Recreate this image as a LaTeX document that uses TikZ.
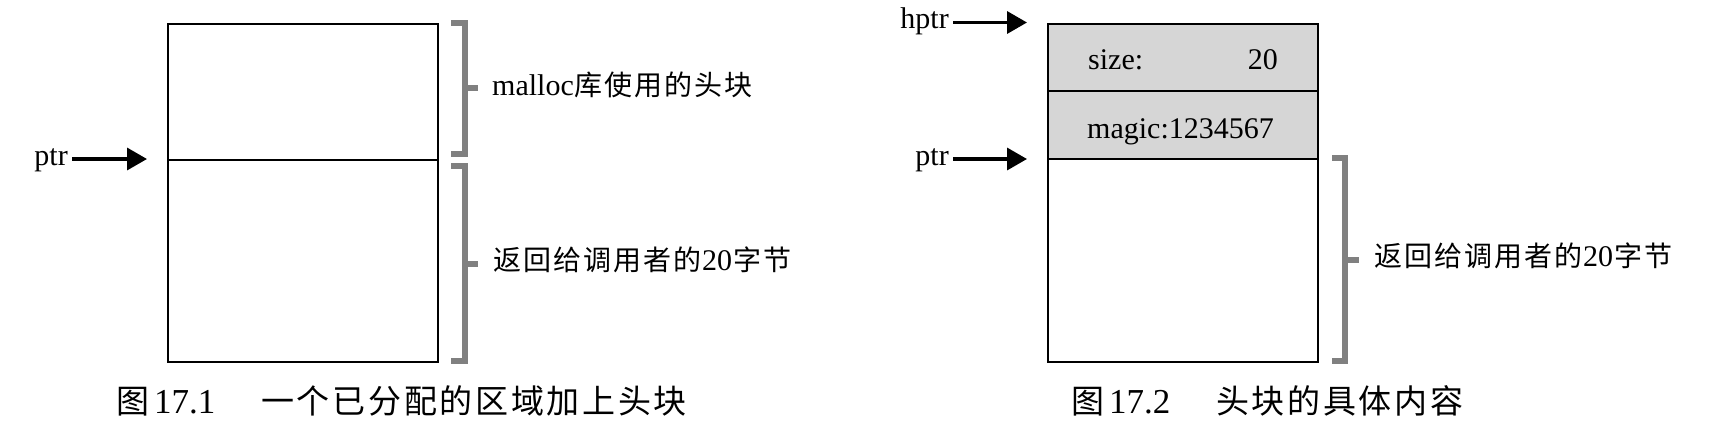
\documentclass[tikz,border=0pt]{standalone}
\usepackage{fontspec}
\setmainfont{Liberation Serif}
\newfontfamily\cjk{Noto Sans CJK SC}
\usetikzlibrary{arrows.meta}
\definecolor{hdrgray}{HTML}{D6D6D6}
\definecolor{brkgray}{HTML}{808080}
\newlength\cpitch
\def\spr#1{\sprA#1\relax}
\def\sprA#1{\ifx\relax#1\else\makebox[\cpitch][c]{#1}\expandafter\sprA\fi}
\newcommand\labcjk[1]{{\cjk\fontsize{28}{30}\selectfont\setlength\cpitch{30pt}\spr{#1}}}
\begin{document}
\begin{tikzpicture}[x=1pt,y=-1pt,
  cell/.style={draw=black, line width=1.6pt, minimum width=270pt, inner sep=0pt, anchor=north west},
  hdr/.style={cell, fill=hdrgray},
  arr/.style={line width=3.5pt, -{Triangle[length=20pt,width=22pt]}},
  brk/.style={draw=brkgray, line width=6pt, miter limit=10},
  lat/.style={font=\fontsize{30}{36}\selectfont, inner sep=0pt},
  ptrlab/.style={lat, inner xsep=4pt, anchor=base east},
  lab/.style={lat, anchor=base west},
  capt/.style={font=\fontsize{35}{40}\selectfont, inner sep=0pt, anchor=base west}
]
\useasboundingbox (0,0) rectangle (1729,445);

% ---------- Figure 17.1 ----------
\node[cell, minimum height=136pt] (hdrL) at (167,23) {};
\node[cell, minimum height=202pt] (bodyL) at (167,159) {};

\coordinate (t1) at (147,159);
\node[ptrlab] (ptr1) at (72,165) {ptr};
\draw[arr] (ptr1.east |- t1) -- (t1);

\draw[brk] (451,23) -- (465,23) -- (465,154) -- (451,154);
\draw[brk] (465,88) -- (478,88);
\draw[brk] (451,166) -- (465,166) -- (465,361) -- (451,361);
\draw[brk] (465,263.5) -- (478,263.5);

\node[lab] (lab1) at (492,95) {malloc\labcjk{库使用的头块}};
\node[lab] (lab2) at (492,270) {\labcjk{返回给调用者的}20\labcjk{字节}};

\node[capt] (cap1a) at (116,413) {\makebox[38pt][l]{\cjk\fontsize{33}{40}\selectfont 图}17.1};
\node[capt] (cap1b) at (259.7,413) {\cjk\fontsize{33}{40}\selectfont\setlength\cpitch{35.7pt}\spr{一个已分配的区域加上头块}};

% ---------- Figure 17.2 ----------
\node[hdr, minimum height=67pt] (sizeC) at (1047,23) {};
\node[hdr, minimum height=68pt] (magicC) at (1047,90) {};
\node[cell, minimum height=203pt] (bodyR) at (1047,158) {};

\node[lab] (szl) at (1088,69) {size:};
\node[lat, anchor=base east] (szv) at (1278,69) {20};
\node[lab] (mg) at (1087,138) {magic:1234567};

\coordinate (t2) at (1027,22.5);
\node[ptrlab] (hptr) at (953,28.5) {hptr};
\draw[arr] (hptr.east |- t2) -- (t2);

\coordinate (t3) at (1027,159);
\node[ptrlab] (ptr2) at (953,165) {ptr};
\draw[arr] (ptr2.east |- t3) -- (t3);

\draw[brk] (1332,158) -- (1345,158) -- (1345,361) -- (1332,361);
\draw[brk] (1345,260) -- (1359,260);

\node[lab] (lab3) at (1373,266) {\labcjk{返回给调用者的}20\labcjk{字节}};

\node[capt] (cap2a) at (1071,413) {\makebox[38pt][l]{\cjk\fontsize{33}{40}\selectfont 图}17.2};
\node[capt] (cap2b) at (1214.5,413) {\cjk\fontsize{33}{40}\selectfont\setlength\cpitch{35.7pt}\spr{头块的具体内容}};
\end{tikzpicture}
\end{document}
